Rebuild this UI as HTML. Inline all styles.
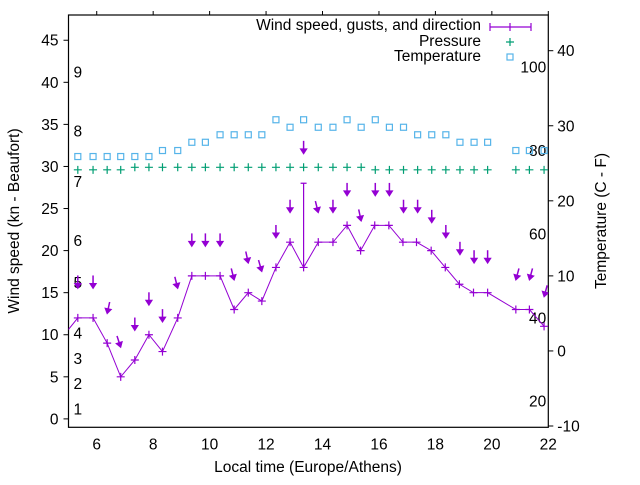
<!DOCTYPE html>
<html><head><meta charset="utf-8"><style>
html,body{margin:0;padding:0;background:#fff}
svg text{font-family:"Liberation Sans",sans-serif;font-size:15.5px;fill:#000}
</style></head><body>
<svg id="c" width="640" height="480" viewBox="0 0 640 480" xmlns="http://www.w3.org/2000/svg"></svg>
<script>
const times=[4.85,5.33,5.87,6.37,6.85,7.35,7.85,8.33,8.87,9.37,9.85,10.37,10.87,11.37,11.85,12.35,12.85,13.33,13.85,14.37,14.87,15.35,15.85,16.35,16.85,17.33,17.85,18.35,18.85,19.35,19.85,20.85,21.33,21.85];
const wind=[10,12,12,9,5,7,10,8,12,17,17,17,13,15,14,18,21,18,21,21,23,20,23,23,21,21,20,18,16,15,15,13,13,11];
const gustTimes=[13.33];
const gustValues=[28];
const gustBase=[18];
const arrowTimes=[5.33,5.87,6.37,6.85,7.35,7.85,8.33,8.87,9.37,9.85,10.37,10.87,11.37,11.85,12.35,12.85,13.33,13.85,14.37,14.87,15.37,15.87,16.37,16.87,17.37,17.87,18.37,18.87,19.37,19.85,20.85,21.33,21.85];
const arrowHead=[15.5,15.5,12.5,8.5,10.5,13.5,11.5,15.5,20.5,20.5,20.5,16.5,18.5,17.5,21.5,24.5,31.5,24.5,24.5,26.5,23.5,26.5,26.5,24.5,24.5,23.3,21.5,19.5,18.5,18.5,16.5,16.5,14.5];
const arrowTilt=[0,0,-12,18,0,0,0,14,0,0,0,14,12,16,0,0,0,14,0,0,12,0,0,0,0,0,0,0,0,0,-15,-15,-15];
const pTimes=[5.33,5.87,6.37,6.85,7.35,7.85,8.33,8.87,9.37,9.85,10.37,10.87,11.37,11.85,12.35,12.85,13.33,13.85,14.37,14.87,15.37,15.87,16.37,16.87,17.37,17.87,18.37,18.87,19.37,19.85,20.85,21.33,21.85];
const pressure=[29.6,29.6,29.6,29.6,29.9,29.9,29.9,29.9,29.9,29.9,29.9,29.9,29.9,29.9,29.9,29.9,29.9,29.9,29.9,29.9,29.9,29.6,29.6,29.6,29.6,29.6,29.6,29.6,29.6,29.6,29.6,29.6,29.6];
const temperature=[25.9,25.9,25.9,25.9,25.9,25.9,26.7,26.7,27.8,27.8,28.8,28.8,28.8,28.8,30.8,29.8,30.8,29.8,29.8,30.8,29.8,30.8,29.8,29.8,28.8,28.8,28.8,27.8,27.8,27.8,26.7,26.7,26.7];
const xTicks=[6,8,10,12,14,16,18,20,22];
const yTicks=[0,5,10,15,20,25,30,35,40,45];
const y2Ticks=[-10,0,10,20,30,40];
const beaufortLabels=["1","2","3","4","5","6","7","8","9"];
const beaufortPos=[1.2,4.2,7.2,10.2,16.2,21.2,28.2,34.2,41.2];
const fLabels=["20","40","60","80","100"];
const fPos=[-6.7,4.4,15.6,26.7,37.8];

const L=68.5,R=548.3,T=15,B=427.3;
const X=t=>L+(t-5)/(22-5)*(R-L);
const Y=v=>B-(v+1)/49*(B-T);
const Y2=c=>B-(c+10)/50*(375.3)-1.3;
const svg=document.getElementById('c');
const NS='http://www.w3.org/2000/svg';
function mk(tag,at,txt){const e=document.createElementNS(NS,tag);for(const k in at)e.setAttribute(k,at[k]);if(txt!==undefined)e.textContent=txt;svg.appendChild(e);return e;}
const P='#9400d3',G='#009e73',Bl='#56b4e9';

// clip
const defs=document.createElementNS(NS,'defs');defs.innerHTML='<clipPath id="pc"><rect x="'+L+'" y="'+T+'" width="'+(R-L)+'" height="'+(B-T)+'"/></clipPath>';svg.appendChild(defs);

// axes ticks
xTicks.forEach(t=>{
 let e=mk('line',{x1:X(t),x2:X(t),y1:T,y2:T-4,stroke:'#000'});
 
 e=mk('text',{x:X(t),y:B+22,'text-anchor':'middle'},String(t));
 
});
yTicks.forEach(v=>{
 let e=mk('line',{x1:L-5,x2:L,y1:Y(v),y2:Y(v),stroke:'#000'});
 
 e=mk('text',{x:L-10,y:Y(v)+5.5,'text-anchor':'end'},String(v));
 
});
y2Ticks.forEach(v=>{
 let e=mk('line',{x1:R,x2:R+5,y1:Y2(v),y2:Y2(v),stroke:'#000'});
 
 e=mk('text',{x:R+9,y:Y2(v)+5.5,'text-anchor':'start'},String(v));
 
});
beaufortLabels.forEach((s,i)=>{
 const e=mk('text',{x:L+5,y:Y(beaufortPos[i])+5.5},s);
 
});
fLabels.forEach((s,i)=>{
 const e=mk('text',{x:R-2,y:Y2(fPos[i])+5.5,'text-anchor':'end'},s);
 
});
let fr=mk('rect',{x:L,y:T,width:R-L,height:B-T,fill:'none',stroke:'#000','stroke-width':1.2});


const g=mk('g',{'clip-path':'url(#pc)'});

function gm(tag,at){const e=document.createElementNS(NS,tag);for(const k in at)e.setAttribute(k,at[k]);g.appendChild(e);return e;}
function plus(x,y,c,w){return gm('path',{d:`M${x-4} ${y}H${x+4}M${x} ${y-4}V${y+4}`,stroke:c,'stroke-width':w||1.2,fill:'none'});}

// pressure
pTimes.forEach((t,i)=>{const e=plus(X(t),Y(pressure[i]),G);});
// temperature
pTimes.forEach((t,i)=>{const e=gm('rect',{x:X(t)-3,y:Y2(temperature[i])-3,width:6,height:6,fill:'none',stroke:Bl,'stroke-width':1.2});});
// wind line
let ln=gm('polyline',{points:times.map((t,i)=>X(t)+','+Y(wind[i])).join(' '),fill:'none',stroke:P,'stroke-width':1});

times.forEach((t,i)=>{const e=plus(X(t),Y(wind[i]),P);});
// gusts
gustTimes.forEach((t,i)=>{const x=X(t);const e=gm('path',{d:`M${x} ${Y(gustBase[i])}V${Y(gustValues[i])}M${x-3} ${Y(gustValues[i])}H${x+3}`,stroke:P,'stroke-width':1.2,fill:'none'});});
// arrows
arrowTimes.forEach((t,i)=>{
 const hx=X(t),hy=Y(arrowHead[i]);const a=arrowTilt[i]*Math.PI/180;const len=arrowTilt[i]?12:13;
 const dx=Math.sin(a),dy=Math.cos(a);
 const tx=hx-dx*len,ty=hy-dy*len;
 const bx=hx-dx*5,by=hy-dy*5;const px=dy*3.2,py=-dx*3.2;
 const e=gm('g',{});
 const l=document.createElementNS(NS,'line');l.setAttribute('x1',tx);l.setAttribute('y1',ty);l.setAttribute('x2',bx);l.setAttribute('y2',by);l.setAttribute('stroke',P);l.setAttribute('stroke-width',1.5);e.appendChild(l);
 const h=document.createElementNS(NS,'path');h.setAttribute('d',`M${hx} ${hy}L${bx+px} ${by+py}L${bx-px} ${by-py}Z`);h.setAttribute('fill',P);h.setAttribute('stroke',P);e.appendChild(h);
});

// legend
let e;
e=mk('text',{x:481,y:30,'text-anchor':'end'},'Wind speed, gusts, and direction');
e=mk('path',{d:'M490 27H531M490 23V31M531 23V31M510 23V31',stroke:P,'stroke-width':1.2,fill:'none'});
e=mk('text',{x:481,y:46,'text-anchor':'end'},'Pressure');
e=mk('path',{d:'M506 42H514M510 38V46',stroke:G,'stroke-width':1.2,fill:'none'});
e=mk('text',{x:481,y:61,'text-anchor':'end'},'Temperature');
e=mk('rect',{x:507,y:54,width:6,height:6,fill:'none',stroke:Bl,'stroke-width':1.2});

// axis titles
e=mk('text',{x:308,y:472,'text-anchor':'middle'},'Local time (Europe/Athens)');
e=mk('text',{x:0,y:0,'text-anchor':'middle',transform:'translate(19,221) rotate(-90)'},'Wind speed (kn - Beaufort)');
e=mk('text',{x:0,y:0,'text-anchor':'middle',transform:'translate(606,221) rotate(-90)'},'Temperature (C - F)');
</script>
</body></html>
